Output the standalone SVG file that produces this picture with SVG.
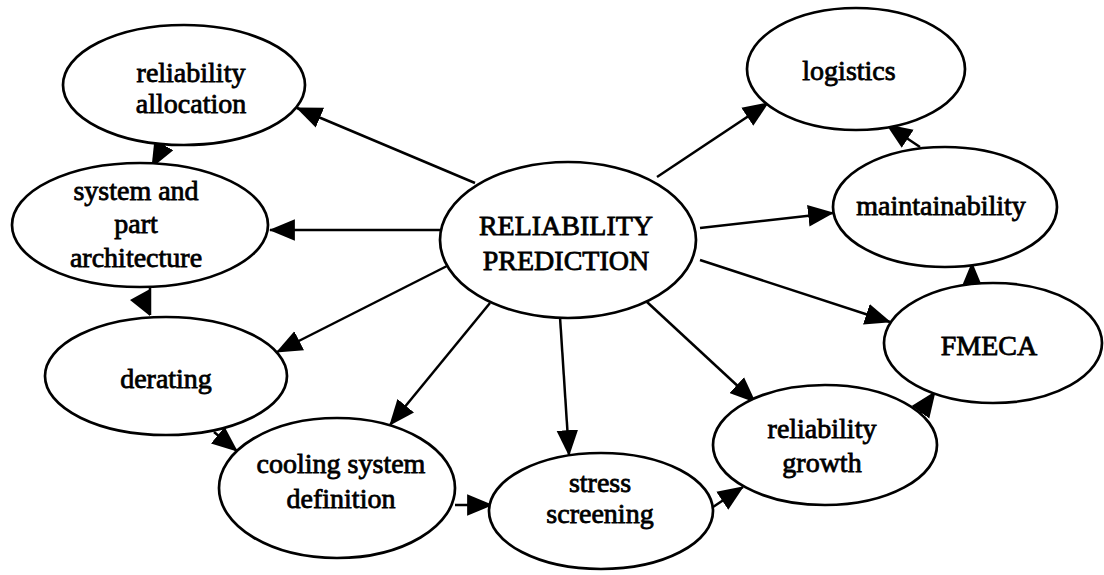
<svg xmlns="http://www.w3.org/2000/svg" width="1104" height="575" viewBox="0 0 1104 575">
  <style>
    .node ellipse { fill: #ffffff; stroke: #000000; stroke-width: 2.7; }
    .node text { font-family: "Liberation Serif", "Times New Roman", serif; font-size: 28px; fill: #000000; stroke: #000000; stroke-width: 0.8; text-anchor: middle; }
    .edges line { stroke: #000000; stroke-width: 2.5; marker-end: url(#head); }
    .edges .plain { marker-end: none; }
  </style>
  <defs>
    <marker id="head" markerUnits="userSpaceOnUse" markerWidth="26" markerHeight="22" viewBox="0 0 23 19" refX="22" refY="9.5" orient="auto">
      <path d="M0,0 L23,9.5 L0,19 z" fill="#000000"/>
    </marker>
  </defs>

  <rect width="1104" height="575" fill="#ffffff"/>

  <!-- connectors -->
  <g class="edges">
    <line x1="475" y1="183" x2="297" y2="108"/>
    <line x1="440" y1="230" x2="270" y2="230"/>
    <line x1="447" y1="266" x2="277" y2="352"/>
    <line x1="490" y1="303" x2="390" y2="425"/>
    <line x1="560" y1="317" x2="569" y2="455"/>
    <line x1="647" y1="302" x2="755" y2="402"/>
    <line x1="700" y1="260" x2="890" y2="322"/>
    <line x1="700" y1="228" x2="833" y2="213"/>
    <line x1="657" y1="177" x2="768" y2="103"/>
    <line x1="920" y1="147" x2="887" y2="125"/>
    <line x1="972" y1="284" x2="972" y2="263"/>
    <line x1="920" y1="413" x2="935" y2="392"/>
    <line x1="713" y1="507" x2="743" y2="487"/>
    <line x1="455" y1="505" x2="492" y2="505"/>
    <line x1="214" y1="432" x2="237" y2="451"/>
    <line x1="165" y1="143" x2="152" y2="167"/>
    <line class="plain" x1="150" y1="288" x2="150" y2="315"/>
    <polygon points="130,300 150,289 150,316" fill="#000000"/>
  </g>

  <g id="prediction" class="node">
    <ellipse cx="568" cy="240" rx="128" ry="78"/>
    <text x="566" y="235">RELIABILITY</text>
    <text x="566" y="270">PREDICTION</text>
  </g>

  <g id="allocation" class="node">
    <ellipse cx="184" cy="85" rx="121" ry="60"/>
    <text x="191" y="82">reliability</text>
    <text x="191" y="113">allocation</text>
  </g>

  <g id="architecture" class="node">
    <ellipse cx="140" cy="225" rx="128" ry="62"/>
    <text x="136" y="200">system and</text>
    <text x="136" y="233">part</text>
    <text x="136" y="267">architecture</text>
  </g>

  <g id="derating" class="node">
    <ellipse cx="166" cy="376" rx="121" ry="59"/>
    <text x="166" y="388">derating</text>
  </g>

  <g id="cooling" class="node">
    <ellipse cx="337" cy="488" rx="118" ry="70"/>
    <text x="341" y="473">cooling system</text>
    <text x="341" y="508">definition</text>
  </g>

  <g id="screening" class="node">
    <ellipse cx="601" cy="511" rx="112" ry="58"/>
    <text x="600" y="492">stress</text>
    <text x="600" y="523">screening</text>
  </g>

  <g id="growth" class="node">
    <ellipse cx="825" cy="445" rx="112" ry="60"/>
    <text x="822" y="438">reliability</text>
    <text x="822" y="472">growth</text>
  </g>

  <g id="fmeca" class="node">
    <ellipse cx="993" cy="343" rx="109" ry="60"/>
    <text x="989" y="355">FMECA</text>
  </g>

  <g id="maintainability" class="node">
    <ellipse cx="945" cy="207" rx="112" ry="60"/>
    <text x="941" y="215">maintainability</text>
  </g>

  <g id="logistics" class="node">
    <ellipse cx="856" cy="69" rx="109" ry="61"/>
    <text x="849" y="80">logistics</text>
  </g>
</svg>
